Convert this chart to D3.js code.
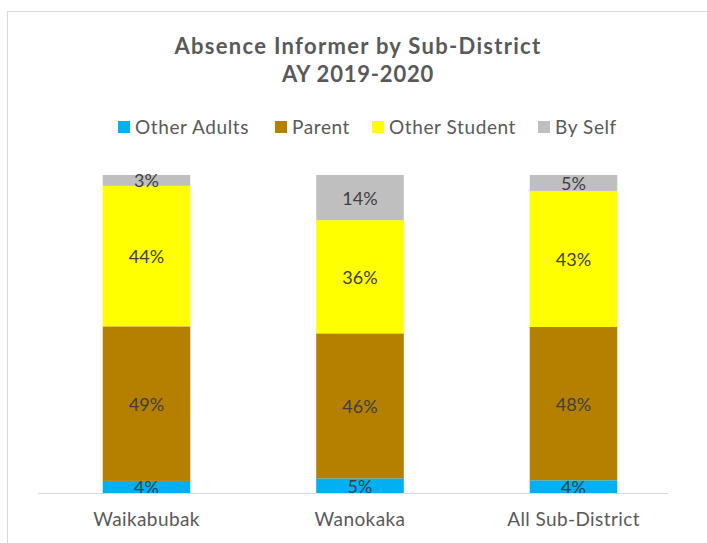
<!DOCTYPE html>
<html>
<head>
<script src="https://d3js.org/d3.v7.min.js"></script>
<style>
  body { margin: 0; background: #fff; font-family: Lato, "Open Sans", sans-serif; }
  svg text { fill: #595959; }
</style>
</head>
<body>
<div id="chart"></div>
<script>
// chart data
const districts = ["Waikabubak", "Wanokaka", "All Sub-District"];
const informers = ["Other Adults", "Parent", "Other Student", "By Self"];
const otherAdults = [3.8, 4.6, 4.0];
const parent = [48.6, 45.6, 48.2];
const otherStudent = [44.2, 35.6, 42.8];
const bySelf = [3.4, 14.2, 5.0];
const labels = [["4%", "49%", "44%", "3%"], ["5%", "46%", "36%", "14%"], ["4%", "48%", "43%", "5%"]];
const colors = ["#00b0f0", "#b57f00", "#ffff00", "#bfbfbf"];

const W = 707, H = 543;
const svg = d3.select("#chart").append("svg").attr("width", W).attr("height", H);

// outer chart border
svg.append("rect")
  .attr("x", 7.5).attr("y", 11.5)
  .attr("width", 760).attr("height", 600)
  .attr("fill", "none").attr("stroke", "#d9d9d9");

// title
svg.append("text").attr("x", 358).attr("y", 54)
  .attr("text-anchor", "middle").style("font-size", "22px").style("font-weight", "bold")
  .style("letter-spacing", "1.3px")
  .text("Absence Informer by Sub-District");
svg.append("text").attr("x", 358).attr("y", 82)
  .attr("text-anchor", "middle").style("font-size", "22px").style("font-weight", "bold")
  .style("letter-spacing", "0.8px")
  .text("AY 2019-2020");

// data rows
const rows = districts.map((d, i) => ({
  district: d,
  "Other Adults": otherAdults[i],
  "Parent": parent[i],
  "Other Student": otherStudent[i],
  "By Self": bySelf[i]
}));

const stack = d3.stack().keys(informers).offset(d3.stackOffsetExpand);
const series = stack(rows);

const x = d3.scaleBand().domain(districts).range([39.75, 680.25]).paddingInner(0.59).paddingOuter(0.295);
const y = d3.scaleLinear().domain([0, 1]).range([493, 175]);

// bars
const groups = svg.append("g").selectAll("g")
  .data(series).enter().append("g")
  .attr("fill", (d, i) => colors[i]);

groups.selectAll("rect")
  .data(d => d).enter().append("rect")
  .attr("x", d => x(d.data.district))
  .attr("width", x.bandwidth())
  .attr("y", d => y(d[1]))
  .attr("height", d => y(d[0]) - y(d[1]));

// segment labels
series.forEach((s, k) => {
  svg.append("g").selectAll("text")
    .data(s).enter().append("text")
    .attr("x", d => x(d.data.district) + x.bandwidth() / 2)
    .attr("y", d => (y(d[0]) + y(d[1])) / 2 + 7)
    .attr("text-anchor", "middle")
    .style("font-size", "18px")
    .style("fill", "#404040")
    .text((d, i) => labels[i][k]);
});

// x axis
const xAxis = svg.append("g")
  .attr("transform", "translate(0,493)")
  .call(d3.axisBottom(x).tickSize(0).tickPadding(20));
xAxis.select(".domain").attr("stroke", "#d9d9d9").attr("d", "M38,0.5H668");
xAxis.selectAll("text").style("font-size", "19px").style("fill", "#595959")
  .style("font-family", "Lato, sans-serif").style("letter-spacing", "0.4px");

// legend
const legendX = [118, 275, 372, 538];
const legend = svg.append("g").selectAll("g")
  .data(informers).enter().append("g")
  .attr("transform", (d, i) => `translate(${legendX[i]},127)`);
legend.append("rect").attr("x", 0).attr("y", -6).attr("width", 12).attr("height", 12)
  .attr("fill", (d, i) => colors[i]);
legend.append("text").attr("x", 17).attr("y", 7)
  .style("font-size", "19px").style("letter-spacing", "0.6px")
  .text(d => d);
</script>
</body>
</html>
